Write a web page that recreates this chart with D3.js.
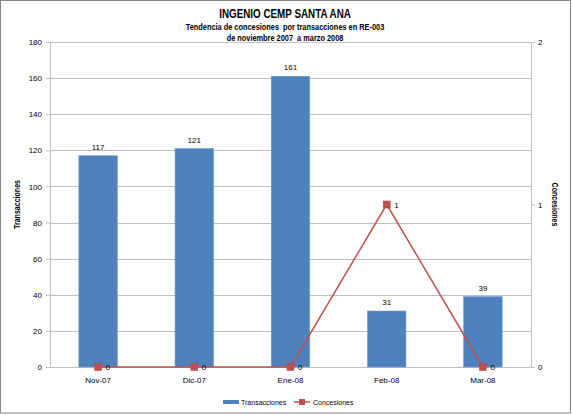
<!DOCTYPE html>
<html>
<head>
<meta charset="utf-8">
<script src="https://cdn.jsdelivr.net/npm/d3@7"></script>
<style>
  body { margin: 0; background: #fff; }
  svg { display: block; }
  .tick text { font-family: "Liberation Sans", Arial, sans-serif; font-size: 8px; fill: #000; }
  .narrow { font-family: "Liberation Sans", Arial, sans-serif; font-weight: bold; }
</style>
</head>
<body>
<div id="chart"></div>
<script>
////////////////////////////  Data  ////////////////////////////
const months = ["Nov-07", "Dic-07", "Ene-08", "Feb-08", "Mar-08"];
const transacciones = [117, 121, 161, 31, 39];
const concesiones = [0, 0, 0, 1, 0];
const leftTicks = [0, 20, 40, 60, 80, 100, 120, 140, 160, 180];
const rightTicks = [0, 1, 2];

////////////////////////////  Init  ////////////////////////////
const width = 572;
const height = 415;
const margin = { top: 42, right: 41, bottom: 48, left: 50 };

const barColor = "#4F81BD";
const lineColor = "#C0504D";
const gridColor = "#BFBFBF";
// no narrow font installed, squeeze bold titles horizontally
const squeeze = 0.82;

const svg = d3.select("#chart").append("svg")
  .attr("width", width)
  .attr("height", height);

// chart border
svg.append("rect")
  .attr("x", 0.5).attr("y", 0.5)
  .attr("width", width - 2).attr("height", height - 2.5)
  .attr("fill", "#fff")
  .attr("stroke", "#868686");

// scales
const x = d3.scaleBand()
  .domain(months)
  .range([margin.left, width - margin.right])
  .paddingInner(0.6)
  .paddingOuter(0.3);

const y = d3.scaleLinear()
  .domain([0, 180])
  .range([height - margin.bottom, margin.top]);

const y2 = d3.scaleLinear()
  .domain([0, 2])
  .range([height - margin.bottom, margin.top]);

const cx = (d) => x(d) + x.bandwidth() / 2;

// grid
svg.append("g")
  .selectAll("line")
  .data(leftTicks.slice(1))
  .join("line")
  .attr("x1", margin.left)
  .attr("x2", width - margin.right)
  .attr("y1", (d) => Math.round(y(d)) + 0.5)
  .attr("y2", (d) => Math.round(y(d)) + 0.5)
  .attr("stroke", gridColor)
  .attr("stroke-width", 1);

// axes
const styleAxis = (g) => {
  g.select(".domain").attr("stroke", gridColor);
  g.selectAll(".tick line").attr("stroke", gridColor);
};

svg.append("g")
  .attr("transform", `translate(${margin.left},0)`)
  .call(d3.axisLeft(y).tickValues(leftTicks).tickSize(4).tickSizeOuter(0).tickPadding(4))
  .call(styleAxis);

svg.append("g")
  .attr("transform", `translate(${width - margin.right},0)`)
  .call(d3.axisRight(y2).tickValues(rightTicks).tickFormat(d3.format("d")).tickSize(4).tickSizeOuter(0).tickPadding(3))
  .call(styleAxis);

svg.append("g")
  .attr("transform", `translate(0,${height - margin.bottom})`)
  .call(d3.axisBottom(x).tickSize(0).tickSizeOuter(0).tickPadding(10))
  .call(styleAxis);

// bars
svg.append("g")
  .selectAll("rect")
  .data(months)
  .join("rect")
  .attr("x", (d) => x(d))
  .attr("y", (d, i) => y(transacciones[i]))
  .attr("width", x.bandwidth())
  .attr("height", (d, i) => y(0) - y(transacciones[i]))
  .attr("fill", barColor)
  .attr("stroke", "#7397c8")
  .attr("stroke-width", 0.6);

svg.append("g")
  .selectAll("text")
  .data(months)
  .join("text")
  .attr("x", (d) => cx(d))
  .attr("y", (d, i) => y(transacciones[i]) - 6)
  .attr("text-anchor", "middle")
  .style("font-family", "'Liberation Sans', Arial, sans-serif")
  .style("font-size", "8px")
  .text((d, i) => transacciones[i]);

// line
const line = d3.line()
  .x((d) => cx(d))
  .y((d, i) => y2(concesiones[i]));

svg.append("path")
  .datum(months)
  .attr("d", line)
  .attr("fill", "none")
  .attr("stroke", lineColor)
  .attr("stroke-width", 1.5);

svg.append("g")
  .selectAll("rect")
  .data(months)
  .join("rect")
  .attr("x", (d) => cx(d) - 3.5)
  .attr("y", (d, i) => y2(concesiones[i]) - 3.5)
  .attr("width", 7)
  .attr("height", 7)
  .attr("fill", lineColor)
  .attr("stroke", "#b4443f")
  .attr("stroke-width", 0.5);

svg.append("g")
  .selectAll("text")
  .data(months)
  .join("text")
  .attr("x", (d) => cx(d) + 7.5)
  .attr("y", (d, i) => y2(concesiones[i]) + 3)
  .style("font-family", "'Liberation Sans', Arial, sans-serif")
  .style("font-size", "8px")
  .text((d, i) => concesiones[i]);

// titles
const titles = [
  { text: "INGENIO CEMP SANTA ANA", y: 18, size: 12 },
  { text: "Tendencia de concesiones  por transacciones en RE-003", y: 30, size: 9 },
  { text: "de noviembre 2007  a marzo 2008", y: 41, size: 9 },
];

svg.append("g")
  .selectAll("text")
  .data(titles)
  .join("text")
  .attr("class", "narrow")
  .attr("transform", (d) => `translate(285,${d.y}) scale(${squeeze},1)`)
  .attr("text-anchor", "middle")
  .style("font-size", (d) => d.size + "px")
  .style("white-space", "pre")
  .text((d) => d.text);

// axis titles
const midY = (y(0) + y(180)) / 2;
svg.append("text")
  .attr("class", "narrow")
  .attr("transform", `translate(20,${midY}) rotate(-90) scale(${squeeze},1)`)
  .attr("text-anchor", "middle")
  .style("font-size", "8.6px")
  .text("Transacciones");

svg.append("text")
  .attr("class", "narrow")
  .attr("transform", `translate(552,${midY}) rotate(90) scale(${squeeze},1)`)
  .attr("text-anchor", "middle")
  .style("font-size", "8.6px")
  .text("Concesiones");

// legend
const legend = svg.append("g").attr("transform", "translate(223,402)");
legend.append("rect")
  .attr("x", 0).attr("y", -2)
  .attr("width", 16).attr("height", 4)
  .attr("fill", barColor);
legend.append("text")
  .attr("x", 18).attr("y", 2.5)
  .style("font-family", "'Liberation Sans', Arial, sans-serif")
  .style("font-size", "7px")
  .text("Transacciones");
legend.append("line")
  .attr("x1", 71).attr("x2", 87)
  .attr("y1", 0).attr("y2", 0)
  .attr("stroke", lineColor)
  .attr("stroke-width", 1.5);
legend.append("rect")
  .attr("x", 76).attr("y", -3)
  .attr("width", 6).attr("height", 6)
  .attr("fill", lineColor);
legend.append("text")
  .attr("x", 90).attr("y", 2.5)
  .style("font-family", "'Liberation Sans', Arial, sans-serif")
  .style("font-size", "7px")
  .text("Concesiones");
</script>
</body>
</html>
